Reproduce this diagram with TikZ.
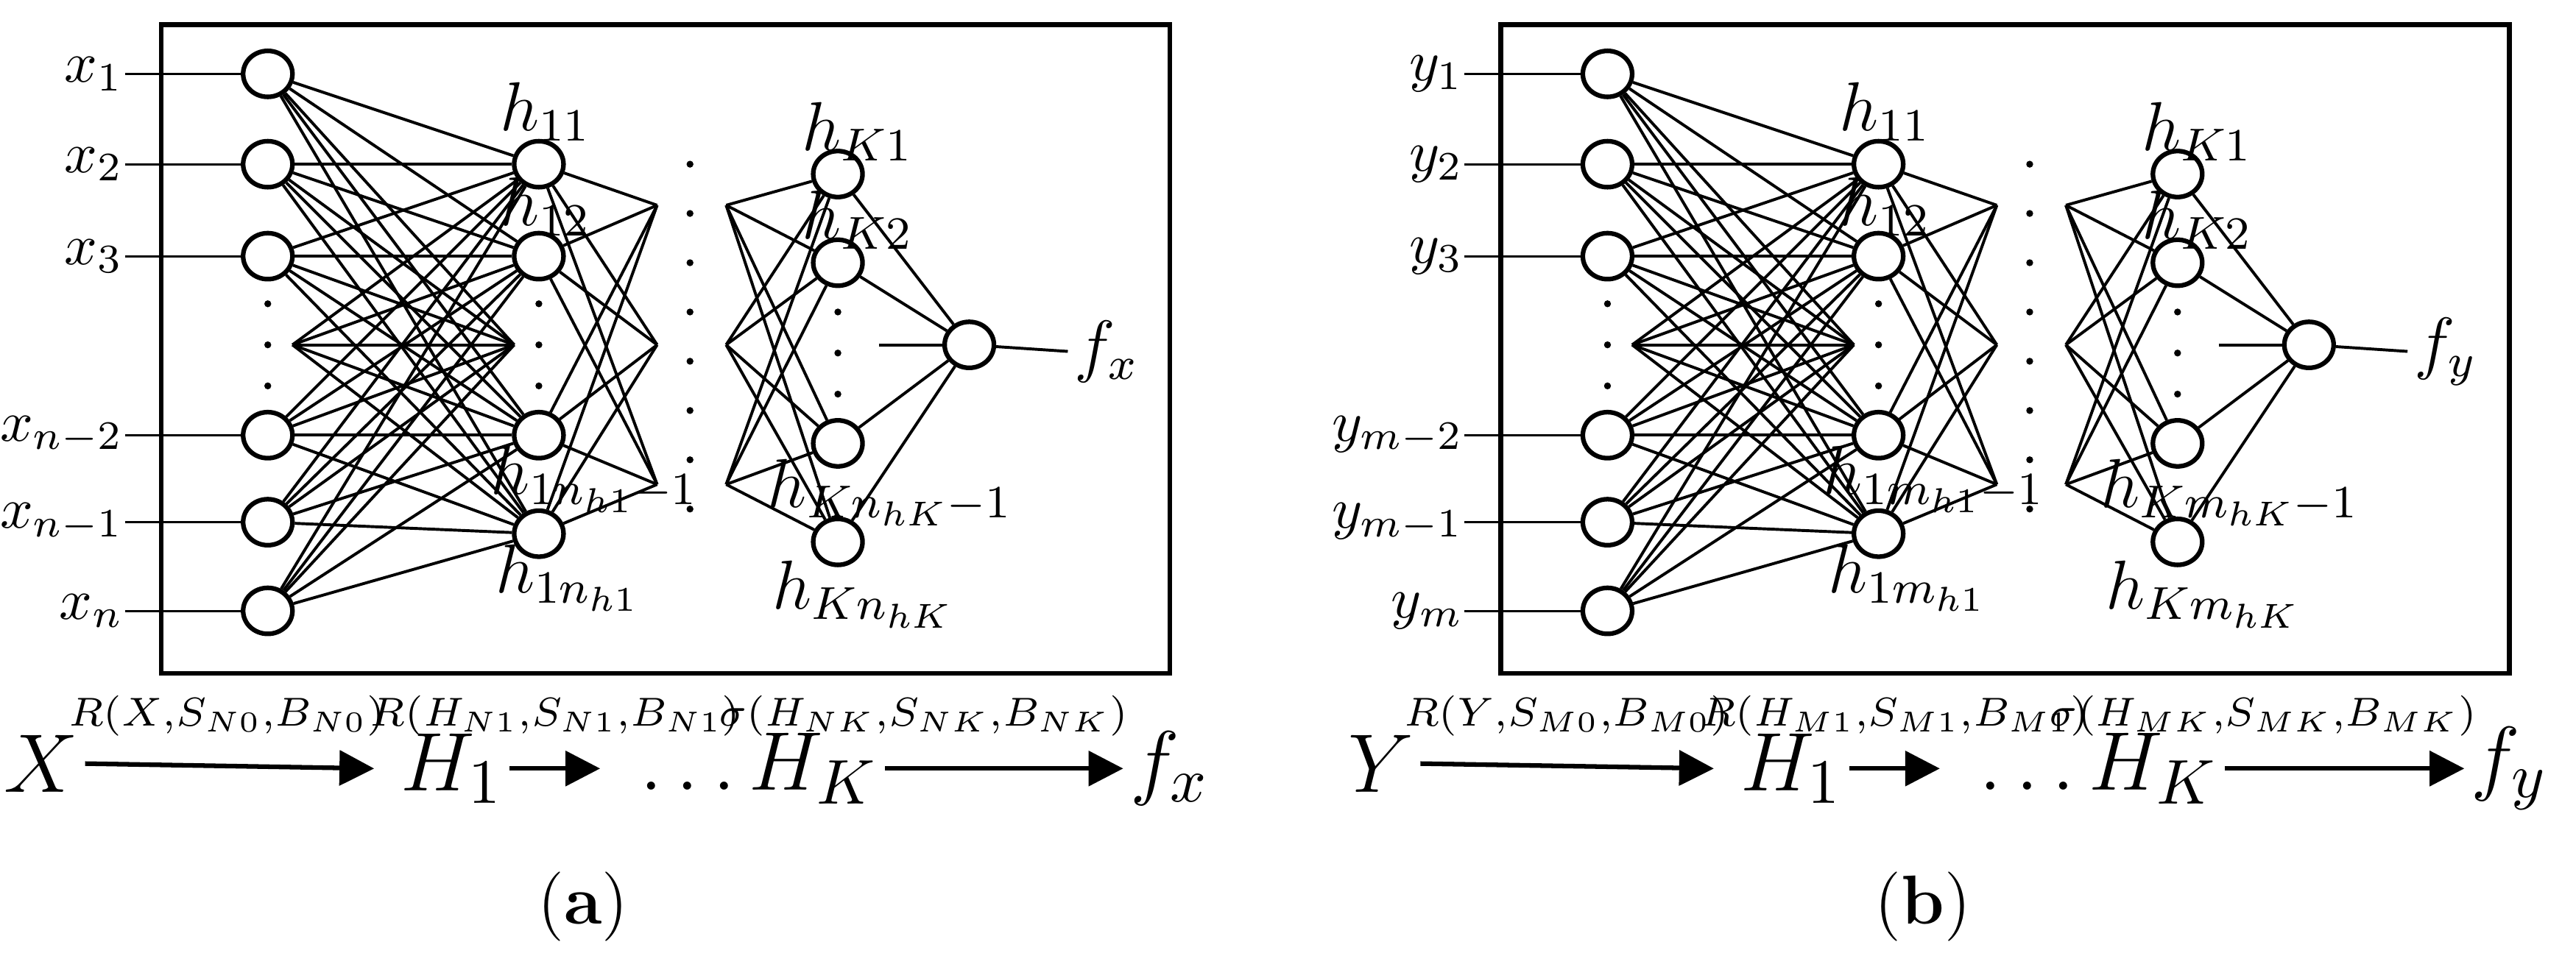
\documentclass[tikz,border=0pt]{standalone}
\usepackage{amsmath}
\usetikzlibrary{shapes.geometric, arrows.meta}
\begin{document}
\begin{tikzpicture}[x=0.01cm, y=-0.01cm, font=\fontsize{12}{14}\selectfont]
  \tikzset{
    neuron/.style={ellipse, draw, thick, minimum width=0.3cm, minimum height=0.28cm, inner sep=0pt},
    link/.style={draw, line width=0.5pt},
    flow/.style={-{Triangle[length=6pt,width=6pt]}, thick},
    big/.style={font=\fontsize{15}{17}\selectfont},
    small/.style={font=\fontsize{7}{8}\selectfont, inner sep=0pt}
  }
  \useasboundingbox (0,0) rectangle (1568,580);
  % #1 prefix, #2 input letter, #3 count letter, #4 capital, #5 N/M, #6 caption
  \newcommand\nnpanel[6]{%
    \draw[thick] (98,15) rectangle (712,410);
    \foreach \k/\y/\lab in {1/45/1, 2/100/2, 3/156/3, 4/265/#3-2, 5/318/#3-1, 6/372/#3} {
      \node[neuron] (#1i\k) at (163,\y) {};
      \node[anchor=east, inner sep=0pt, font=\fontsize{10}{12}\selectfont] (#1l\k) at (76,\y) {$#2_{\lab}$};
      \draw (#1l\k.east) -- (#1i\k);
    }
    \coordinate (#1i7) at (178,210);
    \foreach \k/\y in {1/100, 2/156, 3/265, 4/325}
      \node[neuron] (#1h\k) at (328,\y) {};
    \coordinate (#1h5) at (313,210);
    \foreach \k/\y in {1/125, 2/210, 3/295} {
      \coordinate (#1a\k) at (400,\y);
      \coordinate (#1b\k) at (442,\y);
    }
    \foreach \k/\y in {1/106, 2/160, 3/270, 4/330}
      \node[neuron] (#1k\k) at (510,\y) {};
    \node[neuron] (#1o) at (590,210) {};
    \coordinate (#1s) at (535,210);
    \node[anchor=west, inner sep=1pt] (#1f) at (650,214) {$f_{#2}$};
    % connections
    \foreach \a in {1,...,7}
      \foreach \b in {1,...,5}
        \path[link] (#1i\a) -- (#1h\b);
    \foreach \b in {1,...,4}
      \foreach \c in {1,2,3} {
        \path[link] (#1h\b) -- (#1a\c);
        \path[link] (#1b\c) -- (#1k\b);
      }
    \foreach \b in {1,...,4}
      \path[link] (#1k\b) -- (#1o);
    \path[link] (#1s) -- (#1o);
    \path[link] (#1o) -- (#1f.west);
    % ellipsis dots
    \foreach \y in {185,210,235} {
      \fill (163,\y) circle (0.6pt);
      \fill (328,\y) circle (0.6pt);
      \fill (510,\y+5) circle (0.6pt);
    }
    \foreach \y in {100,130,...,320}
      \fill (420,\y) circle (0.6pt);
    % hidden labels
    \node at (332,68) {$h_{11}$};
    \node at (332,126) {$h_{12}$};
    \node at (362,292) {$h_{1#3_{h1}-1}$};
    \node at (346,352) {$h_{1#3_{h1}}$};
    \node at (522,80) {$h_{K1}$};
    \node at (522,134) {$h_{K2}$};
    \node at (542,300) {$h_{K#3_{hK}-1}$};
    \node at (526,362) {$h_{K#3_{hK}}$};
    % layer flow
    \node[big, inner sep=1pt] (#1X) at (25,465) {$#4$};
    \node[big, inner sep=1pt] (#1H) at (275,468) {$H_1$};
    \node[big, inner sep=1pt] (#1K) at (462,468) {$\dots H_K$};
    \node[big, inner sep=1pt] (#1F) at (712,468) {$f_{#2}$};
    \draw[flow] (#1X.east) -- ([xshift=-0.12cm]#1H.west);
    \draw[flow] (#1H.east) -- ([xshift=-0.2cm]#1K.west);
    \draw[flow] (#1K.east) -- (#1F.west);
    \node[small] (#1r0) at (138,436) {$R(#4{,}S_{#50}{,}B_{#50})$};
    \node[small] (#1r1) at (338,436) {$R(H_{#51}{,}S_{#51}{,}B_{#51})$};
    \node[small] (#1r2) at (562,436) {$\sigma(H_{#5K}{,}S_{#5K}{,}B_{#5K})$};
    \node (#1cap) at (355,552) {(\textbf{#6})};
  }
  \nnpanel{p}{x}{n}{X}{N}{a}
  \begin{scope}[xshift=8.15cm]
    \nnpanel{q}{y}{m}{Y}{M}{b}
  \end{scope}
\end{tikzpicture}
\end{document}
